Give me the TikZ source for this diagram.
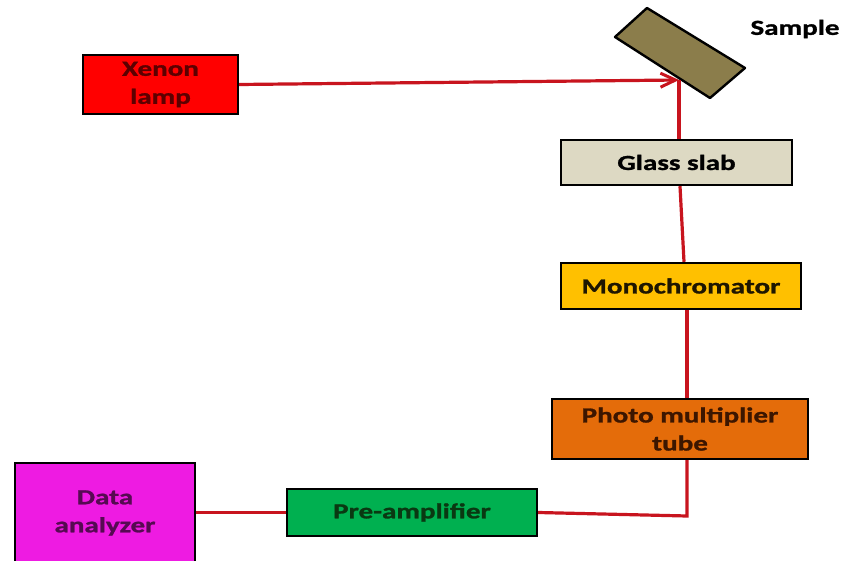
\documentclass[tikz,border=0pt]{standalone}
\usepackage{fontspec}
\newfontfamily\lblfont[FakeStretch=1.35,FakeBold=1.2]{Carlito}
\usetikzlibrary{arrows.meta}
\definecolor{beam}{HTML}{C8141E}
\definecolor{xenonfill}{HTML}{FF0000}
\definecolor{glassfill}{HTML}{DDD9C3}
\definecolor{monofill}{HTML}{FFC000}
\definecolor{pmtfill}{HTML}{E46C0A}
\definecolor{prefill}{HTML}{00B050}
\definecolor{datafill}{HTML}{EE1BE2}
\definecolor{samplefill}{HTML}{8B7D4B}
\definecolor{xenontext}{HTML}{5C0000}
\definecolor{monotext}{HTML}{1E1600}
\definecolor{pmttext}{HTML}{3C1600}
\definecolor{pretext}{HTML}{0A3812}
\definecolor{datatext}{HTML}{560A52}
\tikzset{
  lbl/.style={font=\lblfont\bfseries\fontsize{21.5}{28}\selectfont},
  box/.style={lbl, draw=black, line width=2.4pt, rectangle, inner sep=0pt, align=center},
  beamline/.style={draw=beam, line width=3.2pt},
}
\begin{document}
\begin{tikzpicture}[x=1pt,y=-1pt]
\useasboundingbox (0,0) rectangle (844,561);
\fill[white] (0,0) rectangle (844,561);
% sample plate
\draw[fill=samplefill, line width=2.4pt, line join=round] (647,8) -- (745,68) -- (710,98) -- (615,37) -- cycle;
\node[lbl, text=black] (sample) at (795,29) {Sample};
% boxes
\node[box, fill=xenonfill, text=xenontext, minimum width=155pt, minimum height=59pt] (xenon) at (160.5,84.5) {Xenon\\lamp};
\node[box, fill=glassfill, text=black, minimum width=231pt, minimum height=45pt] (glass) at (676.5,162.5) {Glass slab};
\node[box, fill=monofill, text=monotext, minimum width=240pt, minimum height=46pt] (mono) at (681,286) {Monochromator};
\node[box, fill=pmtfill, text=pmttext, minimum width=256pt, minimum height=60pt] (pmt) at (680,429) {Photo multiplier\\tube};
\node[box, fill=prefill, text=pretext, minimum width=250pt, minimum height=47pt] (pre) at (412,512.5) {Pre-amplifier};
\node[box, fill=datafill, text=datatext, minimum width=180pt, minimum height=107pt] (data) at (105,516.5) {};
\node[lbl, text=datatext, align=center] (datalabel) at (105,513) {Data\\analyzer};
% beam path
\coordinate (tip) at (679,80);
\coordinate (corner) at (687,516);
\draw[beamline, -{Straight Barb[length=15pt,width=14pt,line width=3pt]}] (xenon.east) -- (tip);
\draw[beamline] (tip) -- (glass.north -| tip);
\draw[beamline] ([xshift=3.5pt]glass.south) -- ([xshift=3pt]mono.north);
\draw[beamline] ([xshift=6pt]mono.south) -- ([xshift=7pt]pmt.north);
\draw[beamline] ([xshift=7pt]pmt.south) -- (corner) -- (pre.east);
\draw[beamline] (pre.west) -- (data.east |- pre.west);
\end{tikzpicture}
\end{document}
